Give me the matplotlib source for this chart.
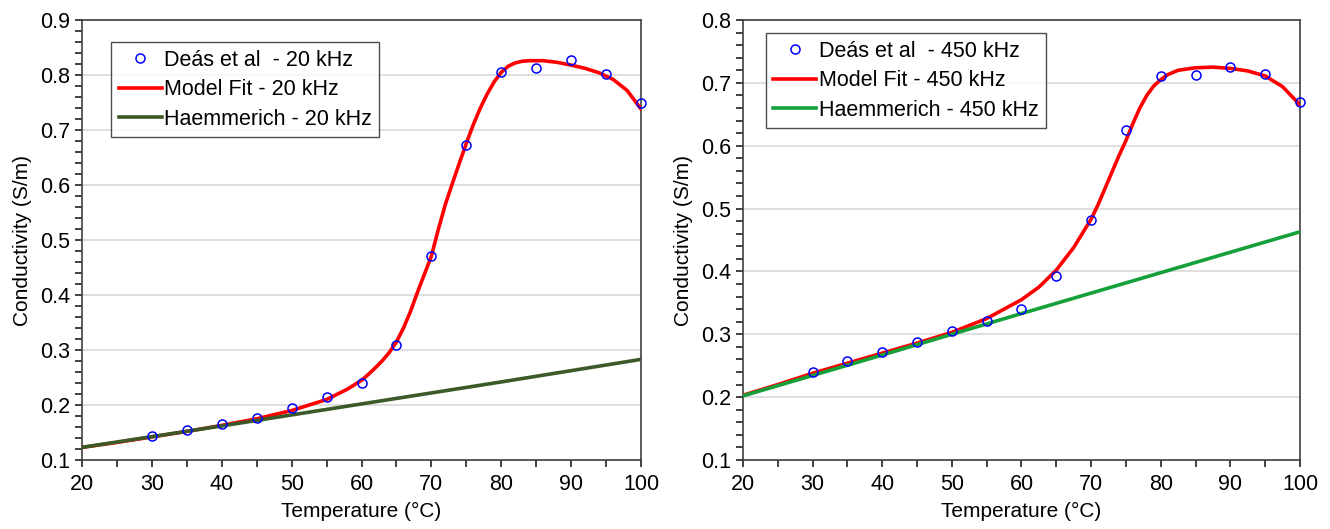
import matplotlib
matplotlib.use("Agg")
import matplotlib.pyplot as plt
from matplotlib.ticker import MultipleLocator

plt.rcParams['font.family'] = ['Liberation Sans', 'DejaVu Sans']

# measured points (Deás et al)
t_pts = [30, 35, 40, 45, 50, 55, 60, 65, 70, 75, 80, 85, 90, 95, 100]
s20_pts = [0.143, 0.155, 0.165, 0.177, 0.195, 0.215, 0.240, 0.310, 0.471, 0.673, 0.806, 0.813, 0.827, 0.801, 0.750]
s450_pts = [0.240, 0.257, 0.272, 0.288, 0.305, 0.321, 0.340, 0.393, 0.482, 0.625, 0.711, 0.712, 0.725, 0.714, 0.670]

# model fit curves
t_fit20 = [20, 25, 30, 35, 40, 45, 50, 55, 58, 60, 61, 62, 63, 64, 65, 66, 67, 68, 69, 70,
           71, 72, 73, 74, 75, 76, 77, 78, 79, 80, 81, 82, 83, 84, 86, 88, 90, 92, 94, 96, 98, 100]
s_fit20 = [0.123, 0.132, 0.142, 0.152, 0.163, 0.175, 0.190, 0.210, 0.229, 0.245, 0.256, 0.268,
           0.281, 0.296, 0.315, 0.340, 0.370, 0.405, 0.438, 0.471, 0.520, 0.565, 0.603, 0.640,
           0.676, 0.710, 0.740, 0.766, 0.788, 0.805, 0.816, 0.822, 0.825, 0.826, 0.826, 0.823,
           0.818, 0.812, 0.804, 0.792, 0.772, 0.738]
t_fit450 = [20, 25, 30, 35, 40, 45, 50, 55, 60, 62.5, 65, 67.5, 70, 71, 72, 73, 74, 75, 76,
            77, 78, 79, 80, 81, 82.5, 85, 87.5, 90, 92.5, 95, 97.5, 100]
s_fit450 = [0.203, 0.220, 0.238, 0.254, 0.270, 0.286, 0.303, 0.325, 0.355, 0.375, 0.402, 0.438,
            0.483, 0.506, 0.532, 0.558, 0.584, 0.608, 0.635, 0.660, 0.680, 0.695, 0.705, 0.713,
            0.720, 0.724, 0.725, 0.723, 0.719, 0.711, 0.694, 0.665]

# Haemmerich lines
t_h = [20, 40, 60, 80, 100]
s_h20 = [0.123, 0.162, 0.202, 0.242, 0.283]
s_h450 = [0.202, 0.267, 0.333, 0.398, 0.463]

fig = plt.figure(figsize=(13.3, 5.29), dpi=100)
ax1 = fig.add_axes([0.0617, 0.1304, 0.4203, 0.8318])
ax2 = fig.add_axes([0.5586, 0.1304, 0.4188, 0.8318])

panels = [
    (ax1, s20_pts, t_fit20, s_fit20, s_h20, '20 kHz', '#3b5a27', (0.1, 0.9), (0.052, 0.95)),
    (ax2, s450_pts, t_fit450, s_fit450, s_h450, '450 kHz', '#16a03a', (0.1, 0.8), (0.041, 0.97)),
]

for ax, pts, tf, sf, sh, freq, gcol, ylim, legpos in panels:
    ax.plot(tf, sf, color='#ff0000', lw=2.6, label='Model Fit - ' + freq, zorder=3,
            solid_joinstyle='round')
    ax.plot(t_h, sh, color=gcol, lw=2.6, label='Haemmerich - ' + freq, zorder=4)
    ax.plot(t_pts, pts, ls='none', marker='o', ms=6.5, mfc='none', mec='#0000ff', mew=1.1,
            label='Deás et al  - ' + freq, zorder=5, clip_on=False)
    ax.set_xlim(20, 100)
    ax.set_ylim(*ylim)
    ax.xaxis.set_major_locator(MultipleLocator(10))
    ax.xaxis.set_minor_locator(MultipleLocator(5))
    ax.yaxis.set_major_locator(MultipleLocator(0.1))
    ax.yaxis.set_minor_locator(MultipleLocator(0.02))
    ax.yaxis.set_major_formatter(plt.FuncFormatter(lambda v, p: '%.1f' % v))
    ax.grid(axis='y', which='major', color='#d9d9d9', lw=1.2)
    ax.set_axisbelow(True)
    for s in ax.spines.values():
        s.set_color('#404040')
        s.set_linewidth(1.2)
    ax.tick_params(which='both', direction='out', length=5, width=1.2, color='#202020',
                   labelsize=15.5, top=False, right=False)
    ax.tick_params(axis='x', pad=5)
    ax.set_xlabel('Temperature (\u00b0C)', fontsize=15, labelpad=5)
    ax.set_ylabel('Conductivity (S/m)', fontsize=15, labelpad=6)
    h, l = ax.get_legend_handles_labels()
    order = [2, 0, 1]
    leg = ax.legend([h[i] for i in order], [l[i] for i in order], loc='upper left',
                    bbox_to_anchor=legpos, fontsize=15.5, frameon=True, fancybox=False,
                    edgecolor='#202020', handlelength=2.0, handletextpad=0.1,
                    borderpad=0.35, labelspacing=0.4, borderaxespad=0)
    leg.get_frame().set_linewidth(1.0)

fig.savefig('out.png', dpi=100)
